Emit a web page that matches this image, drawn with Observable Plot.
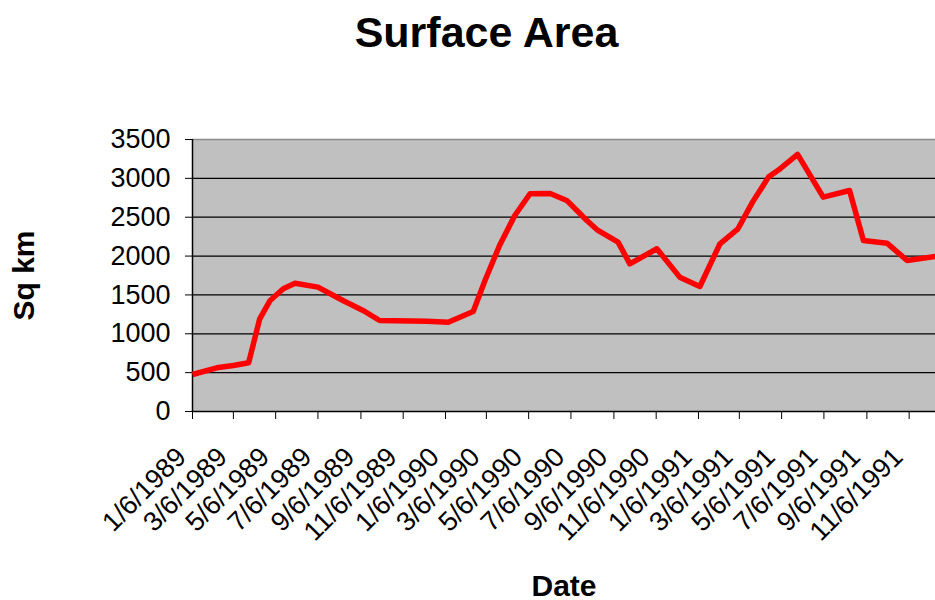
<!DOCTYPE html>
<html>
<head>
<meta charset="utf-8">
<script src="https://cdn.jsdelivr.net/npm/d3@7"></script>
<script src="https://cdn.jsdelivr.net/npm/@observablehq/plot@0.6"></script>
<style>
  html, body { margin: 0; padding: 0; background: #fff; }
  #wrap { position: relative; width: 935px; height: 600px; overflow: hidden; font-family: "Liberation Sans", Arial, sans-serif; }
  #title { position: absolute; left: 19px; width: 935px; top: 11px; text-align: center; font-size: 43px; font-weight: bold; line-height: 1; color: #000; }
  #chart { position: absolute; left: 0; top: 100px; }
  #chart svg [aria-label="x-axis label"], #chart svg [aria-label="y-axis label"] { font-weight: bold; font-size: 30px; }
</style>
</head>
<body>
<div id="wrap">
  <div id="title">Surface Area</div>
  <div id="chart"></div>
</div>
<script>
// Data
const dates = [
  "1989-01-06","1989-02-10","1989-03-06","1989-03-28","1989-04-13","1989-04-28","1989-05-17","1989-06-03",
  "1989-07-06","1989-08-11","1989-09-09","1989-10-03","1989-12-10","1990-01-10","1990-02-15","1990-03-04",
  "1990-03-25","1990-04-16","1990-05-08","1990-06-06","1990-06-30","1990-07-29","1990-08-14","1990-09-12",
  "1990-09-29","1990-11-07","1990-12-10","1991-01-08","1991-02-06","1991-03-04","1991-03-25","1991-04-17",
  "1991-05-04","1991-05-29","1991-07-05","1991-08-12","1991-09-01","1991-10-05","1991-11-03","1991-12-14"
];
const areas = [
  476, 562, 592, 627, 1193, 1429, 1579, 1651,
  1600, 1428, 1300, 1171, 1162, 1149, 1287, 1686,
  2136, 2522, 2802, 2805, 2716, 2458, 2330, 2179,
  1900, 2094, 1729, 1609, 2158, 2351, 2694, 3016,
  3124, 3308, 2758, 2844, 2201, 2166, 1943, 1995
];
const xTickDates = [
  "1989-01-06","1989-03-06","1989-05-06","1989-07-06","1989-09-06","1989-11-06",
  "1990-01-06","1990-03-06","1990-05-06","1990-07-06","1990-09-06","1990-11-06",
  "1991-01-06","1991-03-06","1991-05-06","1991-07-06","1991-09-06","1991-11-06"
];
const xTickLabels = [
  "1/6/1989","3/6/1989","5/6/1989","7/6/1989","9/6/1989","11/6/1989",
  "1/6/1990","3/6/1990","5/6/1990","7/6/1990","9/6/1990","11/6/1990",
  "1/6/1991","3/6/1991","5/6/1991","7/6/1991","9/6/1991","11/6/1991"
];
const xDomain = ["1989-01-06", "1991-12-14"];
const yTicks = [0, 500, 1000, 1500, 2000, 2500, 3000, 3500];

const parse = s => new Date(s + "T00:00:00Z");
const data = dates.map((d, i) => ({date: parse(d), area: areas[i]}));
const tickDates = xTickDates.map(parse);
const labelOf = new Map(tickDates.map((d, i) => [+d, xTickLabels[i]]));

const chart = Plot.plot({
  width: 935,
  height: 500,
  marginTop: 39,
  marginBottom: 189,
  marginLeft: 192,
  marginRight: 0,
  style: {fontFamily: "'Liberation Sans', Arial, sans-serif", fontSize: "27px", color: "#000", background: "transparent", overflow: "visible"},
  x: {type: "utc", domain: xDomain.map(parse)},
  y: {domain: [yTicks[0], yTicks[yTicks.length - 1]]},
  marks: [
    Plot.frame({fill: "#c0c0c0", stroke: null}),
    Plot.gridY(yTicks.slice(1, -1), {stroke: "#000", strokeOpacity: 1, strokeWidth: 1.3}),
    Plot.ruleY(yTicks.slice(-1), {stroke: "#8c8c8c", strokeWidth: 1.3}),
    Plot.ruleY(yTicks.slice(0, 1), {stroke: "#000", strokeWidth: 1.5}),
    Plot.ruleX(tickDates.slice(0, 1), {stroke: "#000", strokeWidth: 1.5}),
    Plot.axisY(yTicks, {tickSize: 7, tickPadding: 15, fontSize: 27, tickFormat: d => String(d), label: "Sq km", labelAnchor: "center", labelArrow: "none", labelOffset: 180}),
    Plot.axisX(tickDates, {tickSize: 8, tickFormat: () => "", label: "Date", labelAnchor: "center", labelArrow: "none", labelOffset: 184}),
    Plot.axisX(tickDates, {tickSize: 0, tickPadding: 41, tickRotate: -45, dx: -11, fontSize: 27, tickFormat: d => labelOf.get(+d), label: null}),
    Plot.line(data, {x: "date", y: "area", stroke: "#ff0000", strokeWidth: 5.5, strokeLinejoin: "round", strokeLinecap: "butt"})
  ]
});
document.getElementById("chart").appendChild(chart);
</script>
</body>
</html>
